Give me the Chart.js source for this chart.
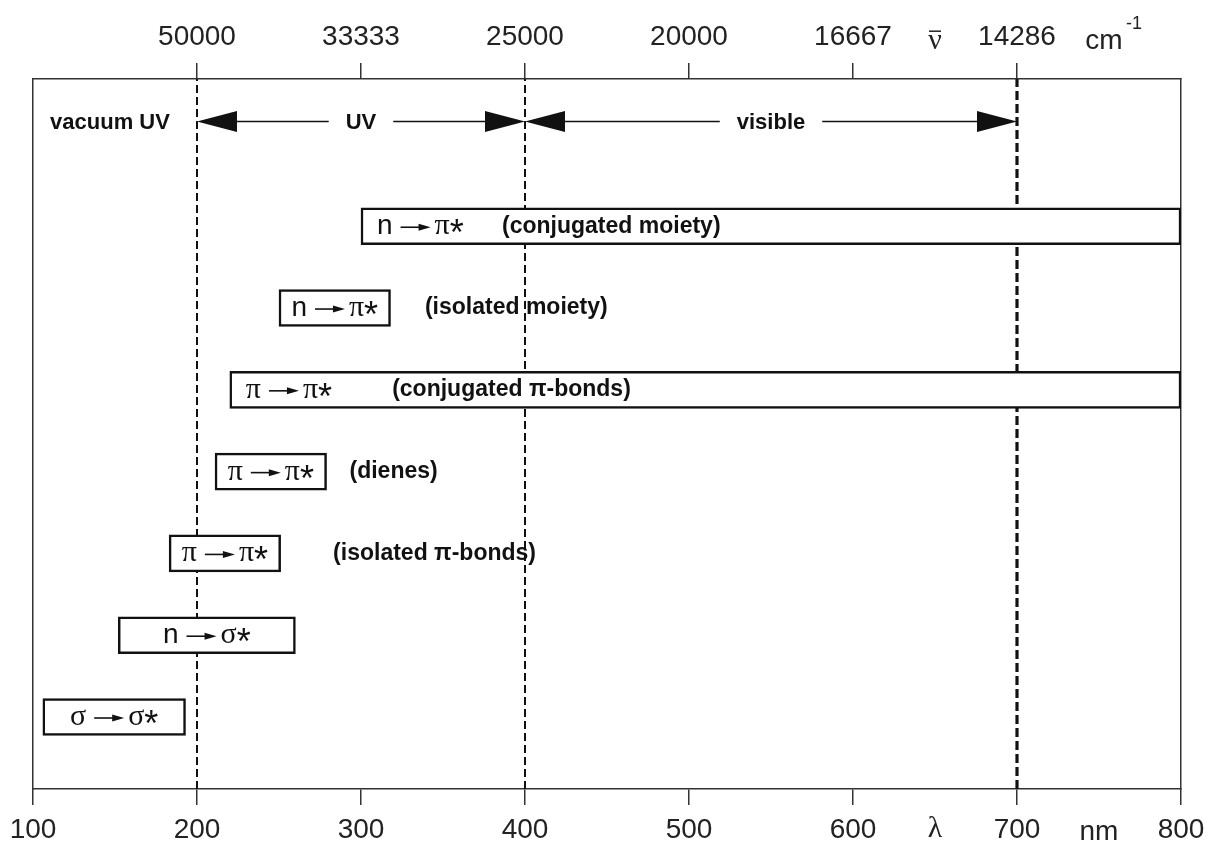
<!DOCTYPE html>
<html><head><meta charset="utf-8">
<script src="https://cdn.jsdelivr.net/npm/chart.js@4.4.1/dist/chart.umd.min.js"></script>
<style>html,body{margin:0;padding:0;background:#fff}#wrap{width:1215px;height:843px;position:relative}</style>
</head><body><div id="wrap"><canvas id="c"></canvas></div>
<script>
// ---- data ----
const wavelengthTicks = [100, 200, 300, 400, 500, 600, 700, 800];
const wavenumberTickNm = [200, 300, 400, 500, 600, 700];
const wavenumberLabels = ['50000', '33333', '25000', '20000', '16667', '14286'];
const fromOrbital = ['n', 'n', 'π', 'π', 'π', 'n', 'σ'];
const toOrbital = ['π', 'π', 'π', 'π', 'π', 'σ', 'σ'];
const notes = ['(conjugated moiety)', '(isolated moiety)', '(conjugated π-bonds)', '(dienes)', '(isolated π-bonds)', '', ''];
const noteStartNm = [386, 339, 319, 293, 283, null, null];
const bandStartNm = [300, 250, 220, 211, 183, 152, 106];
const bandEndNm = [800, 318, 800, 279, 251, 260, 193];
const regionBounds = [100, 200, 400, 700];
const regionNames = ['vacuum UV', 'UV', 'visible'];
const dividerNm = [200, 400, 700];

// ---- layout constants (style) ----
const Y_MIN = 0.12, Y_MAX = 8.8, HEADER_Y = 8.28;
const SANS = '"Liberation Sans", Arial, sans-serif';
const SERIF = '"Liberation Serif", "Times New Roman", serif';
const INK = '#111';
const TICK_FONT = 28, TOP_TICK_LEN = 16, TOP_PAD = 9, BOT_TICK_LEN = 16, BOT_PAD = 8;

const rows = bandStartNm.map((s, i) => ({ y: bandStartNm.length - i, x: [s, bandEndNm[i]] }));

function drawArrow(ctx, x0, x1, y, headLen, headHalf, lw) {
  const d = x1 >= x0 ? 1 : -1;
  ctx.save();
  ctx.strokeStyle = INK; ctx.fillStyle = INK; ctx.lineWidth = lw;
  ctx.beginPath(); ctx.moveTo(x0, y); ctx.lineTo(x1 - d * (headLen - 1), y); ctx.stroke();
  ctx.beginPath(); ctx.moveTo(x1, y); ctx.lineTo(x1 - d * headLen, y - headHalf); ctx.lineTo(x1 - d * headLen, y + headHalf); ctx.closePath(); ctx.fill();
  ctx.restore();
}
function orbFont(o) { return o === 'n' ? '28px ' + SANS : '30px ' + SERIF; }

const annotPlugin = {
  id: 'annot',
  afterDatasetsDraw(chart) {
    const { ctx, scales } = chart;
    const x = scales.x, y = scales.y, x2 = scales.x2;
    ctx.save();
    ctx.fillStyle = INK;
    // transition boxes labels
    const meta = chart.getDatasetMeta(0);
    meta.data.forEach((el, i) => {
      const p = el.getProps(['x', 'y', 'base'], true);
      const left = Math.min(p.x, p.base), right = Math.max(p.x, p.base);
      const cy = p.y, base = cy + 8;
      ctx.font = orbFont(fromOrbital[i]);
      const wA = ctx.measureText(fromOrbital[i]).width;
      ctx.font = orbFont(toOrbital[i]);
      const wB = ctx.measureText(toOrbital[i]).width;
      ctx.font = '36px ' + SANS;
      const wS = ctx.measureText('*').width;
      const arrowGap1 = 8, arrowLen = 30, arrowGap2 = 4;
      const total = wA + arrowGap1 + arrowLen + arrowGap2 + wB + wS;
      const startX = (right - left) > 250 ? left + 16 : (left + right) / 2 - total / 2;
      ctx.textAlign = 'left'; ctx.textBaseline = 'alphabetic';
      ctx.font = orbFont(fromOrbital[i]);
      ctx.fillText(fromOrbital[i], startX, base);
      let cx = startX + wA + arrowGap1;
      drawArrow(ctx, cx, cx + arrowLen, cy + 1, 12, 3.5, 1.6);
      cx += arrowLen + arrowGap2;
      ctx.font = orbFont(toOrbital[i]);
      ctx.fillText(toOrbital[i], cx, base);
      cx += wB;
      ctx.font = '36px ' + SANS;
      ctx.fillText('*', cx, base + 11);
      if (notes[i]) {
        ctx.font = 'bold 23px ' + SANS;
        ctx.textBaseline = 'middle';
        ctx.fillText(notes[i], x.getPixelForValue(noteStartNm[i]), cy);
      }
    });
    // header: spectral regions
    const hy = y.getPixelForValue(HEADER_Y);
    ctx.font = 'bold 22px ' + SANS;
    ctx.textBaseline = 'middle'; ctx.textAlign = 'center';
    regionNames.forEach((name, i) => {
      const a = x.getPixelForValue(regionBounds[i]);
      const b = x.getPixelForValue(regionBounds[i + 1]);
      const mid = (a + b) / 2;
      if (i === 0) { ctx.fillText(name, mid - 5, hy + 1); return; }
      const tw = ctx.measureText(name).width;
      const g0 = mid - tw / 2 - 17, g1 = mid + tw / 2 + 17;
      drawArrow(ctx, g0, a, hy, 40, 10.5, 1.5);
      drawArrow(ctx, g1, b, hy, 40, 10.5, 1.5);
      ctx.fillText(name, mid, hy + 1);
    });
    // axis unit labels
    const lh = TICK_FONT * 1.2;
    const botY = x.top + BOT_TICK_LEN + BOT_PAD + lh / 2;
    const topY = x2.bottom - TOP_TICK_LEN - TOP_PAD - lh / 2;
    ctx.fillStyle = '#222';
    ctx.textAlign = 'center'; ctx.textBaseline = 'middle';
    ctx.font = '30px ' + SERIF;
    ctx.fillText('λ', x.getPixelForValue(650), botY - 1);
    ctx.font = TICK_FONT + 'px ' + SANS;
    ctx.fillText('nm', x.getPixelForValue(750), botY + 2);
    // top: nu-bar and cm-1
    const nx = x2.getPixelForValue(650);
    ctx.font = '30px ' + SERIF;
    ctx.fillText('ν', nx, topY + 4);
    ctx.strokeStyle = '#222'; ctx.lineWidth = 1.5;
    ctx.beginPath(); ctx.moveTo(nx - 6, topY - 6); ctx.lineTo(nx + 6, topY - 6); ctx.stroke();
    ctx.font = TICK_FONT + 'px ' + SANS;
    const cmx = x2.getPixelForValue(750) + 5;
    ctx.fillText('cm', cmx, topY + 4);
    ctx.font = '18px ' + SANS;
    ctx.textAlign = 'left';
    ctx.fillText('-1', cmx + 22, topY - 13);
    ctx.restore();
  }
};

const datasets = [{
  type: 'bar',
  data: rows,
  backgroundColor: '#fff',
  borderColor: INK,
  borderWidth: 2.5,
  borderSkipped: false,
  barThickness: 37,
  xAxisID: 'x', yAxisID: 'y',
  order: 1
}].concat(dividerNm.map((v, i) => ({
  type: 'line',
  data: [{ x: v, y: Y_MIN }, { x: v, y: Y_MAX }],
  borderColor: INK,
  borderWidth: i === dividerNm.length - 1 ? 3.2 : 2,
  borderDash: i === dividerNm.length - 1 ? [9, 4] : [8, 4],
  pointRadius: 0,
  tension: 0,
  fill: false,
  xAxisID: 'x', yAxisID: 'y',
  order: 2
})));

new Chart(document.getElementById('c'), {
  data: { datasets },
  options: {
    indexAxis: 'y',
    responsive: true,
    maintainAspectRatio: false,
    animation: false,
    events: [],
    layout: { padding: { left: 33, right: 34, top: 0, bottom: 0 } },
    plugins: { legend: { display: false }, tooltip: { enabled: false } },
    scales: {
      x: {
        type: 'linear', position: 'bottom', min: 100, max: 800, offset: false,
        afterBuildTicks: s => { s.ticks = wavelengthTicks.map(v => ({ value: v })); },
        afterFit: s => { s.height = 54; },
        ticks: { font: { size: TICK_FONT, family: SANS }, color: '#222', padding: BOT_PAD, maxRotation: 0, autoSkip: false, callback: v => String(v) },
        grid: { drawOnChartArea: false, drawTicks: true, tickLength: BOT_TICK_LEN, color: '#333', lineWidth: 1.5 },
        border: { display: true, color: '#333', width: 1.5 }
      },
      x2: {
        type: 'linear', position: 'top', min: 100, max: 800, offset: false,
        afterBuildTicks: s => { s.ticks = wavenumberTickNm.map(v => ({ value: v })); },
        afterFit: s => { s.height = 79; },
        ticks: { font: { size: TICK_FONT, family: SANS }, color: '#222', padding: TOP_PAD, maxRotation: 0, autoSkip: false,
          callback: v => wavenumberLabels[wavenumberTickNm.indexOf(v)] },
        grid: { drawOnChartArea: false, drawTicks: true, tickLength: TOP_TICK_LEN, color: '#333', lineWidth: 1.5 },
        border: { display: true, color: '#333', width: 1.5 }
      },
      y: {
        type: 'linear', position: 'left', min: Y_MIN, max: Y_MAX, offset: false,
        afterFit: s => { s.width = 0; },
        ticks: { display: false },
        grid: { drawOnChartArea: false, drawTicks: false, offset: false },
        border: { display: true, color: '#333', width: 1.5 }
      },
      y2: {
        type: 'linear', position: 'right', min: Y_MIN, max: Y_MAX, offset: false,
        afterFit: s => { s.width = 0; },
        ticks: { display: false },
        grid: { drawOnChartArea: false, drawTicks: false, offset: false },
        border: { display: true, color: '#333', width: 1.5 }
      }
    }
  },
  plugins: [annotPlugin]
});
</script>
</body></html>
